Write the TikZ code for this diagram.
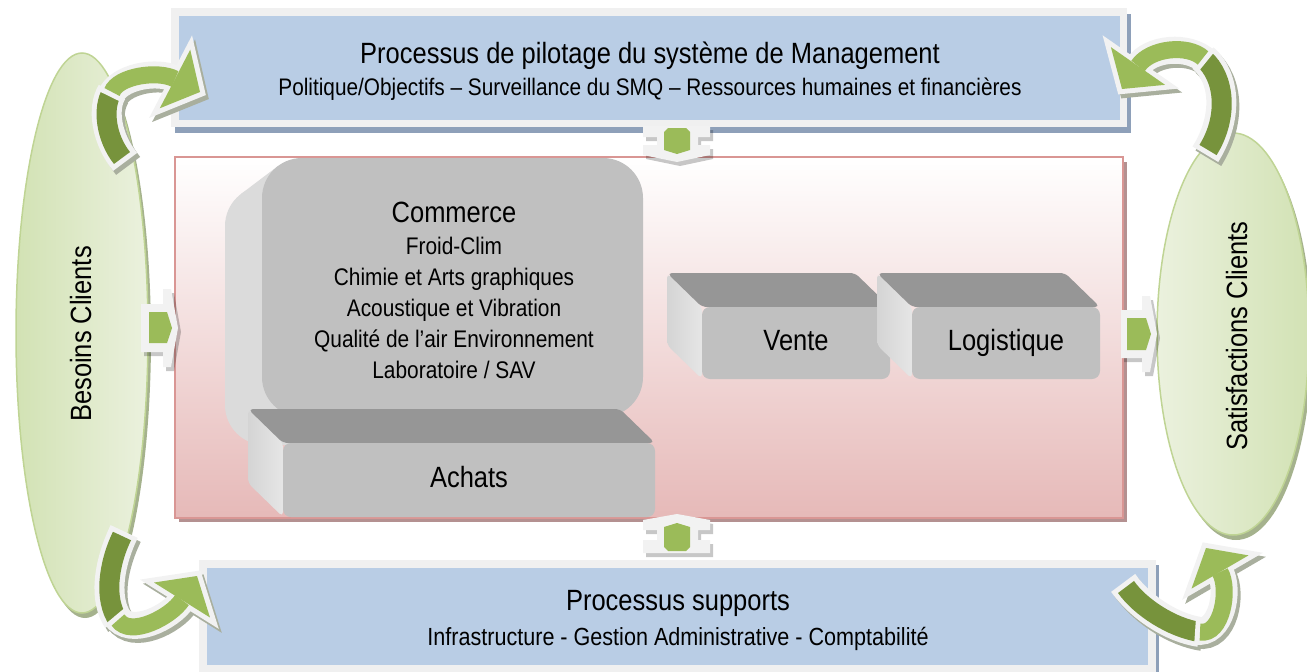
\documentclass[tikz,border=0pt]{standalone}
\usepackage{fontspec}
\setmainfont{Liberation Sans}[FakeStretch=0.87]
\usetikzlibrary{calc}

\definecolor{boxblue}{HTML}{B9CDE5}
\definecolor{boxframe}{HTML}{F0F0F0}
\definecolor{boxshadow}{HTML}{8EA0B9}
\definecolor{redline}{HTML}{D99694}
\definecolor{redshadow}{HTML}{B49191}
\definecolor{pinkbottom}{HTML}{E6B9B8}
\definecolor{ellin}{HTML}{EBF1DE}
\definecolor{ellout}{HTML}{D2E2B4}
\definecolor{ellline}{HTML}{BFD494}
\definecolor{ellshadow}{HTML}{A5B28D}
\definecolor{arrdark}{HTML}{77933C}
\definecolor{arrlight}{HTML}{9BBB59}
\definecolor{arrout}{HTML}{F2F2F2}
\definecolor{arrshadow}{HTML}{A9AF9E}
\definecolor{faceF}{HTML}{C0C0C0}
\definecolor{faceT}{HTML}{969696}
\definecolor{faceL}{HTML}{D4D4D4}
\definecolor{faceR}{HTML}{E6E6E6}
\definecolor{linkgreen}{HTML}{9BBB59}
\definecolor{linkwhite}{HTML}{F2F2F2}

% extruded block: front face (x1,y1)-(x2,y2), depth towards upper left
\newcommand{\tdblock}[4]{%
  \shade[left color=faceL, right color=faceR, rounded corners=5pt]
    (#1-35,#2-34) -- (#1,#2) -- (#1,#4) -- (#1-35,#4-34) -- cycle;
  \fill[faceT, rounded corners=5pt]
    (#1-35,#2-34) -- (#3-35,#2-34) -- (#3,#2) -- (#1,#2) -- cycle;
  \fill[faceF, rounded corners=8pt] (#1,#2) rectangle (#3,#4);
}

% bent two-tone arrow: tail, controls, split, controls, head base, tip
\newcommand{\bentarrow}[8]{%
  \begin{scope}[shift={(3,4)}]
    \draw[arrshadow, line width=30pt, shorten <=-5pt] #1 .. controls #2 and #3 .. #4;
    \draw[arrshadow, line width=27pt, shorten <=-5pt] #4 .. controls #5 and #6 .. #7;
    \filldraw[draw=arrshadow, fill=arrshadow, line width=10pt, line join=miter]
      ($#7!33pt!90:#8$) -- #8 -- ($#7!33pt!-90:#8$) -- cycle;
  \end{scope}
  \draw[arrout, line width=30pt, shorten <=-5pt] #1 .. controls #2 and #3 .. #4;
  \draw[arrdark, line width=20pt] #1 .. controls #2 and #3 .. #4;
  \draw[arrout, line width=27pt, shorten <=-5pt] #4 .. controls #5 and #6 .. #7;
  \filldraw[draw=arrout, fill=arrout, line width=10pt, line join=miter]
    ($#7!33pt!90:#8$) -- #8 -- ($#7!33pt!-90:#8$) -- cycle;
  \draw[arrlight, line width=17pt] #4 .. controls #5 and #6 .. #7;
  \fill[arrlight] ($#7!33pt!90:#8$) -- #8 -- ($#7!33pt!-90:#8$) -- cycle;
}

\tikzset{
  lbl/.style={anchor=base, inner sep=0pt, text=black},
  title/.style={lbl, font=\fontsize{29.3}{32}\selectfont},
  subtitle/.style={lbl, font=\fontsize{23.9}{26}\selectfont},
  bigtitle/.style={lbl, font=\fontsize{29.3}{32}\selectfont},
  item/.style={lbl, font=\fontsize{24}{26}\selectfont},
  linkshadow/.style={fill=black, opacity=0.22},
}

\begin{document}
\begin{tikzpicture}[x=1pt,y=-1pt]
\useasboundingbox (0,0) rectangle (1307,672);

% customer ellipses
\fill[ellshadow] (85,338) ellipse [x radius=66, y radius=280];
\path[draw=ellline, line width=1.5pt, left color=ellout, right color=ellin]
  (82,333) ellipse [x radius=66, y radius=280];
\fill[ellshadow] (1236,339) ellipse [x radius=76, y radius=201];
\path[draw=ellline, line width=1.5pt, left color=ellin, right color=ellout]
  (1233,334) ellipse [x radius=76, y radius=201];

% management process box
\fill[boxshadow] (175,14) rectangle (1131,133);
\fill[boxframe] (171,8) rectangle (1127,127);
\fill[boxblue] (179,16) rectangle (1120,120);

% support process box
\fill[boxshadow] (202,565) rectangle (1159,680);
\fill[boxframe] (199,560) rectangle (1156,675);
\fill[boxblue] (207,568) rectangle (1148,665);

% core process area
\fill[redshadow] (179,162) rectangle (1127,522);
\shade[top color=white, bottom color=pinkbottom] (175,157) rectangle (1123,518);
\draw[redline, line width=2pt] (175,157) rectangle (1123,518);

% Commerce block
\fill[faceL!60!faceR, rounded corners=40pt] (225,186) rectangle (606,445);
\fill[faceL!60!faceR] (278,166) -- (241,194) -- (265,226) -- (302,198) -- cycle;
\fill[faceF, rounded corners=40pt] (262,158) rectangle (643,417);

% Achats, Vente, Logistique blocks
\tdblock{283}{443}{655}{517}
\tdblock{702}{307}{890}{379}
\tdblock{912}{307}{1100}{379}

% links between the areas
\begin{scope}[shift={(3,4)}]
  \fill[linkshadow] (643,126) -- (710,126) -- (710,137) -- (698,137) -- (698,145) -- (710,145)
    -- (710,155) -- (677,162) -- (643,155) -- (643,145) -- (657,145) -- (657,137) -- (643,137) -- cycle;
  \fill[linkshadow] (677,514) -- (710,520) -- (710,530) -- (698,530) -- (698,540) -- (710,540)
    -- (710,553) -- (643,553) -- (643,540) -- (657,540) -- (657,530) -- (643,530) -- (643,520) -- cycle;
  \fill[linkshadow] (141,304) -- (163,304) -- (163,289) -- (171,289) -- (178,328) -- (171,367)
    -- (163,367) -- (163,352) -- (141,352) -- cycle;
  \fill[linkshadow] (1121,310) -- (1142,310) -- (1142,296) -- (1150,296) -- (1157,334) -- (1150,372)
    -- (1142,372) -- (1142,358) -- (1121,358) -- cycle;
\end{scope}
\fill[linkwhite] (643,126) -- (710,126) -- (710,137) -- (698,137) -- (698,145) -- (710,145)
  -- (710,155) -- (677,162) -- (643,155) -- (643,145) -- (657,145) -- (657,137) -- (643,137) -- cycle;
\fill[linkgreen] (664,132) -- (668,128) -- (686,128) -- (690,132) -- (690,150) -- (677,154) -- (664,150) -- cycle;
\fill[linkwhite] (677,514) -- (710,520) -- (710,530) -- (698,530) -- (698,540) -- (710,540)
  -- (710,553) -- (643,553) -- (643,540) -- (657,540) -- (657,530) -- (643,530) -- (643,520) -- cycle;
\fill[linkgreen] (664,527) -- (677,523) -- (690,527) -- (690,547) -- (686,551) -- (668,551) -- (664,547) -- cycle;
\fill[linkwhite] (141,304) -- (163,304) -- (163,289) -- (171,289) -- (178,328) -- (171,367)
  -- (163,367) -- (163,352) -- (141,352) -- cycle;
\fill[linkgreen] (149,312) -- (167,312) -- (172,328) -- (167,343) -- (149,343) -- cycle;
\fill[linkwhite] (1121,310) -- (1142,310) -- (1142,296) -- (1150,296) -- (1157,334) -- (1150,372)
  -- (1142,372) -- (1142,358) -- (1121,358) -- cycle;
\fill[linkgreen] (1127,318) -- (1146,318) -- (1151,334) -- (1146,350) -- (1127,350) -- cycle;

% bent arrows around the loop
\bentarrow{(122,158)}{(106,138)}{(102,108)}{(112,92)}{(118,76)}{(158,70)}{(175,79)}{(200,92)}
\bentarrow{(1208,150)}{(1228,118)}{(1226,78)}{(1203,58)}{(1188,44)}{(1150,48)}{(1138,66)}{(1122,89)}
\bentarrow{(122,536)}{(108,565)}{(104,600)}{(118,620)}{(130,638)}{(171,617)}{(182,600)}{(197,576)}
\bentarrow{(1126,587)}{(1140,607)}{(1172,628)}{(1200,632)}{(1222,636)}{(1230,589)}{(1220,572)}{(1206,548)}

% texts
\node[title] (pilot) at (650,63) {Processus de pilotage du système de Management};
\node[subtitle] (pilotsub) at (650,95) {Politique/Objectifs – Surveillance du SMQ – Ressources humaines et financières};
\node[title] (support) at (678,610) {Processus supports};
\node[subtitle, font=\fontsize{24.8}{27}\selectfont] (supportsub) at (678,645) {Infrastructure - Gestion Administrative - Comptabilité};

\node[bigtitle] (commerce) at (454,222) {Commerce};
\node[item] (c1) at (454,254) {Froid-Clim};
\node[item] (c2) at (454,285) {Chimie et Arts graphiques};
\node[item] (c3) at (454,316) {Acoustique et Vibration};
\node[item] (c4) at (454,347) {Qualité de l’air Environnement};
\node[item] (c5) at (454,378) {Laboratoire / SAV};

\node[bigtitle] (achats) at (469,487) {Achats};
\node[bigtitle] (vente) at (796,350) {Vente};
\node[bigtitle] (logistique) at (1006,350) {Logistique};

\node[bigtitle, rotate=90] (besoins) at (91,334) {Besoins Clients};
\node[bigtitle, rotate=90] (satisf) at (1247,336) {Satisfactions Clients};
\end{tikzpicture}
\end{document}
